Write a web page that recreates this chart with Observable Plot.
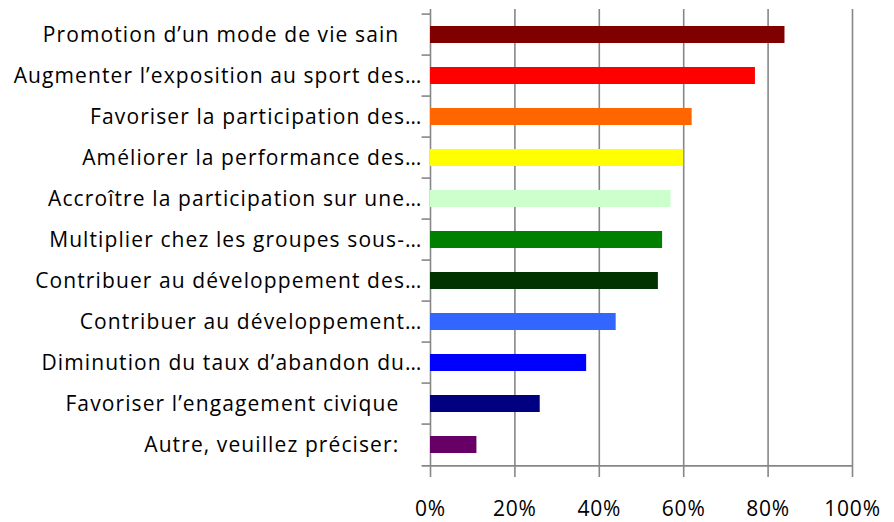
<!DOCTYPE html>
<html>
<head>
<meta charset="utf-8">
<script src="https://cdn.jsdelivr.net/npm/d3@7"></script>
<script src="https://cdn.jsdelivr.net/npm/@observablehq/plot@0.6"></script>
<style>
  html, body { margin: 0; padding: 0; background: #fff; }
  #chart svg { display: block; }
</style>
</head>
<body>
<div id="chart"></div>
<script>
const categories = [
  "Promotion d’un mode de vie sain",
  "Augmenter l’exposition au sport des…",
  "Favoriser la participation des…",
  "Améliorer la performance des…",
  "Accroître la participation sur une…",
  "Multiplier chez les groupes sous-…",
  "Contribuer au développement des…",
  "Contribuer au développement…",
  "Diminution du taux d’abandon du…",
  "Favoriser l’engagement civique",
  "Autre, veuillez préciser:"
];
const values = [84, 77, 62, 60, 57, 55, 54, 44, 37, 26, 11];
const colors = ["#800000", "#FF0000", "#FF6600", "#FFFF00", "#CCFFCC", "#008000", "#003300", "#3366FF", "#0000FF", "#000080", "#660066"];
const xTicks = [0, 20, 40, 60, 80, 100];

const data = categories.map((c, i) => ({category: c, value: values[i], color: colors[i]}));

const width = 894, height = 522;
const marginTop = 9, marginBottom = 53, marginLeft = 430, marginRight = 42;
const step = (height - marginTop - marginBottom) / categories.length;
const gray = "#878787";
const font = "'Open Sans', Lato, sans-serif";

const chart = Plot.plot({
  width, height, marginTop, marginBottom, marginLeft, marginRight,
  style: {fontFamily: font, fontSize: "21px", color: "#000", background: "#fff"},
  x: {domain: [0, 100], ticks: xTicks},
  y: {domain: categories, paddingInner: 0.593, paddingOuter: 0.2965},
  marks: [
    Plot.ruleX(xTicks, {x: d => d, stroke: gray, strokeWidth: 1.6, strokeOpacity: 1}),
    Plot.ruleY(categories, {y: d => d, x1: -2, x2: 0, dy: -step / 2, stroke: gray, strokeWidth: 1.6}),
    Plot.ruleY([categories[categories.length - 1]], {y: d => d, x1: -2, x2: 100, dy: step / 2, stroke: gray, strokeWidth: 1.6}),
    Plot.barX(data, {y: "category", x: "value", fill: "color"}),
    Plot.axisY({tickSize: 0, tickPadding: 8, fontSize: 21, label: null,
      tickFormat: d => d.endsWith("…") ? d : d + "\u2002\u2002"}),
    Plot.axisX(xTicks, {tickSize: 8, tickPadding: 24, fontSize: 21, label: null, stroke: gray, strokeWidth: 1.6, strokeOpacity: 1,
      tickFormat: d => d + "%"})
  ]
});
d3.select(chart).selectAll("[aria-label='y-axis tick label'] text").style("letter-spacing", "1.1px");
d3.select(chart).selectAll("[aria-label='x-axis tick label'] text").style("letter-spacing", "0.8px");
document.getElementById("chart").appendChild(chart);
</script>
</body>
</html>
